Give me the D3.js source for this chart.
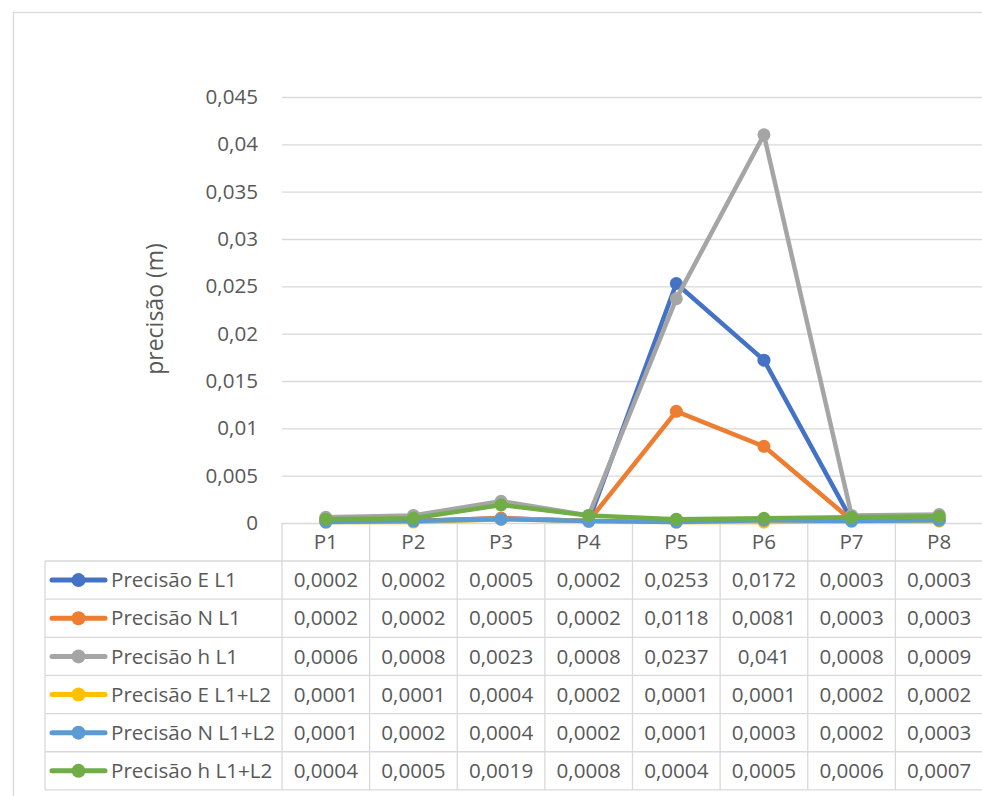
<!DOCTYPE html>
<html>
<head>
<meta charset="utf-8">
<script src="https://cdn.jsdelivr.net/npm/d3@7"></script>
<style>
  html, body { margin: 0; padding: 0; background: #fff; }
  svg { display: block; }
  text { font-family: "Open Sans", "Noto Sans", sans-serif; fill: #595959; }
</style>
</head>
<body>
<script>
// Points along the survey and the precision of each solution (metres)
const points = ["P1", "P2", "P3", "P4", "P5", "P6", "P7", "P8"];
const seriesNames = [
  "Precisão E L1", "Precisão N L1", "Precisão h L1",
  "Precisão E L1+L2", "Precisão N L1+L2", "Precisão h L1+L2"
];
const precEL1   = [0.0002, 0.0002, 0.0005, 0.0002, 0.0253, 0.0172, 0.0003, 0.0003];
const precNL1   = [0.0002, 0.0002, 0.0005, 0.0002, 0.0118, 0.0081, 0.0003, 0.0003];
const precHL1   = [0.0006, 0.0008, 0.0023, 0.0008, 0.0237, 0.041, 0.0008, 0.0009];
const precEL1L2 = [0.0001, 0.0001, 0.0004, 0.0002, 0.0001, 0.0001, 0.0002, 0.0002];
const precNL1L2 = [0.0001, 0.0002, 0.0004, 0.0002, 0.0001, 0.0003, 0.0002, 0.0003];
const precHL1L2 = [0.0004, 0.0005, 0.0019, 0.0008, 0.0004, 0.0005, 0.0006, 0.0007];
const yTicks = [0, 0.005, 0.01, 0.015, 0.02, 0.025, 0.03, 0.035, 0.04, 0.045];
const yTitle = "precisão (m)";

const colors = ["#4472C4", "#ED7D31", "#A5A5A5", "#FFC000", "#5B9BD5", "#70AD47"];
const series = [precEL1, precNL1, precHL1, precEL1L2, precNL1L2, precHL1L2]
  .map((values, i) => ({ name: seriesNames[i], values, color: colors[i] }));

const W = 982, H = 796;
const plotLeft = 282, plotRight = 983, plotTop = 97, plotBottom = 523;
const tableLeft = 45, headerBottom = 561, rowH = 38.15;
const grid = "#d9d9d9";
const fs = 20.6;
const fmt = v => String(+v.toFixed(4)).replace(".", ",");

const svg = d3.select("body").append("svg").attr("width", W).attr("height", H);

// chart frame
svg.append("rect").attr("x", 13.5).attr("y", 12.5)
  .attr("width", W + 10).attr("height", H + 10)
  .attr("fill", "none").attr("stroke", grid).attr("stroke-width", 1.3);

const x = d3.scaleBand().domain(points).range([plotLeft, plotRight]).padding(0);
const y = d3.scaleLinear().domain([0, 0.045]).range([plotBottom, plotTop]);

// horizontal gridlines + tick labels
const yAxis = d3.axisLeft(y).tickValues(yTicks).tickFormat(fmt)
  .tickSize(-(plotRight - plotLeft)).tickPadding(24);
const ga = svg.append("g").attr("transform", `translate(${plotLeft},0)`).call(yAxis);
ga.select(".domain").remove();
ga.selectAll(".tick line").attr("stroke", grid).attr("stroke-width", 1.3);
ga.selectAll(".tick text").attr("font-size", fs).attr("fill", "#595959")
  .style("font-family", '"Open Sans", sans-serif');

// axis title
svg.append("text")
  .attr("transform", `translate(163,309) rotate(-90)`)
  .attr("text-anchor", "middle")
  .attr("font-size", 23)
  .text(yTitle);

// data table
const tableBottom = headerBottom + rowH * series.length;
const tg = svg.append("g");
// column separators
[...points.map(p => x(p)), plotRight].forEach(cx => {
  tg.append("line").attr("x1", cx).attr("x2", cx)
    .attr("y1", plotBottom).attr("y2", tableBottom)
    .attr("stroke", grid).attr("stroke-width", 1.3);
});
// left edge of the series column
tg.append("line").attr("x1", tableLeft).attr("x2", tableLeft)
  .attr("y1", headerBottom).attr("y2", tableBottom)
  .attr("stroke", grid).attr("stroke-width", 1.3);
// row separators
d3.range(series.length + 1).forEach(i => {
  const ry = headerBottom + i * rowH;
  tg.append("line").attr("x1", tableLeft).attr("x2", plotRight)
    .attr("y1", ry).attr("y2", ry).attr("stroke", grid).attr("stroke-width", 1.3);
});
// header row
points.forEach(p => {
  tg.append("text").attr("x", x(p) + x.bandwidth() / 2)
    .attr("y", (plotBottom + headerBottom) / 2)
    .attr("dy", "0.35em").attr("text-anchor", "middle")
    .attr("font-size", fs).text(p);
});
// series rows
series.forEach((s, i) => {
  const cy = headerBottom + i * rowH + rowH / 2;
  tg.append("line").attr("x1", 52).attr("x2", 105).attr("y1", cy).attr("y2", cy)
    .attr("stroke", s.color).attr("stroke-width", 5).attr("stroke-linecap", "round");
  tg.append("circle").attr("cx", 78.5).attr("cy", cy).attr("r", 7).attr("fill", s.color);
  tg.append("text").attr("x", 111).attr("y", cy).attr("dy", "0.35em")
    .attr("font-size", fs).text(s.name);
  s.values.forEach((v, j) => {
    tg.append("text").attr("x", x(points[j]) + x.bandwidth() / 2)
      .attr("y", cy).attr("dy", "0.35em").attr("text-anchor", "middle")
      .attr("font-size", fs).text(fmt(v));
  });
});

// lines and markers
const line = d3.line()
  .x((d, j) => x(points[j]) + x.bandwidth() / 2)
  .y(d => y(d));
const sg = svg.append("g");
series.forEach(s => {
  const g = sg.append("g");
  g.append("path").attr("d", line(s.values)).attr("fill", "none")
    .attr("stroke", s.color).attr("stroke-width", 4.5)
    .attr("stroke-linejoin", "round").attr("stroke-linecap", "round");
  g.selectAll("circle").data(s.values).join("circle")
    .attr("cx", (d, j) => x(points[j]) + x.bandwidth() / 2)
    .attr("cy", d => y(d)).attr("r", 6.5).attr("fill", s.color);
});
</script>
</body>
</html>
